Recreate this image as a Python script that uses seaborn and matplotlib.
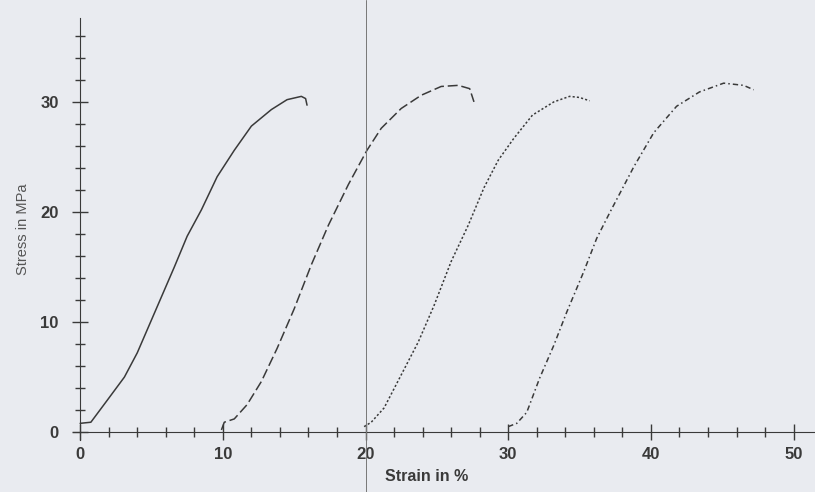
import numpy as np
import pandas as pd
import seaborn as sns
import matplotlib.pyplot as plt
from matplotlib.ticker import MultipleLocator

# values (strain in %, stress in MPa)
strain_1 = [0.0, 0.75, 1.9, 3.1, 4.0, 4.7, 5.7, 6.6, 7.5, 8.5, 9.6, 10.8, 12.0, 13.4, 14.5, 15.5, 15.8, 15.9]
stress_1 = [0.8, 0.9, 2.9, 5.0, 7.2, 9.3, 12.3, 15.0, 17.8, 20.2, 23.2, 25.6, 27.8, 29.3, 30.2, 30.5, 30.3, 29.7]

strain_2 = [9.9, 10.1, 10.8, 11.7, 12.7, 13.8, 15.0, 16.2, 17.4, 18.8, 20.1, 21.1, 22.5, 23.9, 25.3, 26.5, 27.3, 27.6]
stress_2 = [0.2, 0.9, 1.2, 2.5, 4.6, 7.6, 11.2, 15.2, 18.8, 22.5, 25.6, 27.6, 29.4, 30.6, 31.4, 31.5, 31.2, 30.0]

strain_3 = [19.9, 20.4, 21.3, 22.5, 23.7, 24.8, 26.0, 27.2, 28.3, 29.3, 30.4, 31.7, 33.2, 34.3, 35.0, 35.7]
stress_3 = [0.5, 0.9, 2.2, 5.2, 8.2, 11.5, 15.5, 18.8, 22.2, 24.7, 26.7, 28.8, 30.0, 30.5, 30.4, 30.1]

strain_4 = [30.0, 30.6, 31.3, 32.2, 33.2, 34.1, 35.3, 36.2, 37.1, 38.8, 40.2, 41.8, 43.4, 45.1, 46.5, 47.2]
stress_4 = [0.5, 0.8, 1.8, 4.9, 7.9, 10.9, 14.6, 17.6, 19.9, 24.1, 27.2, 29.6, 30.9, 31.7, 31.5, 31.1]

curves = ["1", "2", "3", "4"]

# long-form table for seaborn
frames = []
for name, xs, ys in zip(curves, [strain_1, strain_2, strain_3, strain_4],
                        [stress_1, stress_2, stress_3, stress_4]):
    frames.append(pd.DataFrame({"strain": xs, "stress": ys, "curve": name}))
df = pd.concat(frames, ignore_index=True)

sns.set_style("white")
plt.rcParams['font.family'] = ['Liberation Sans', 'DejaVu Sans']

paper = "#e9ebf0"
ink = "#3a3a3a"

fig = plt.figure(figsize=(8.15, 4.92), dpi=100, facecolor=paper)
ax = fig.add_axes([0.0896, 0.106, 0.9104, 0.857])
ax.set_facecolor(paper)

dashes = {"1": "", "2": (6.5, 2.5), "3": (1.4, 1.4), "4": (3.5, 2, 1, 2)}
sns.lineplot(data=df, x="strain", y="stress", style="curve", dashes=dashes,
             sort=False, estimator=None, color=ink, linewidth=1.1,
             legend=False, ax=ax)

# crease in the scanned paper
fig.add_artist(plt.Line2D([366 / 815, 366 / 815], [0, 1], color="#777777", linewidth=0.7))

ax.set_xlim(-0.5, 51.5)
ax.set_ylim(-0.7, 37.6)

for s in ["top", "right"]:
    ax.spines[s].set_visible(False)
ax.spines["left"].set_position(("data", 0))
ax.spines["bottom"].set_position(("data", 0))
ax.spines["left"].set_color(ink)
ax.spines["bottom"].set_color(ink)
ax.spines["left"].set_bounds(-0.7, 37.6)
ax.spines["bottom"].set_bounds(-0.5, 51.5)

ax.xaxis.set_major_locator(MultipleLocator(10))
ax.xaxis.set_minor_locator(MultipleLocator(2))
ax.yaxis.set_major_locator(MultipleLocator(10))
ax.yaxis.set_minor_locator(MultipleLocator(2))
ax.tick_params(which="both", bottom=True, left=True, direction="inout", color=ink, width=1.0)
ax.tick_params(which="major", length=11)
ax.tick_params(which="minor", length=7)
ax.tick_params(axis="x", which="major", pad=5, labelsize=12, labelcolor=ink)
ax.tick_params(axis="y", which="major", pad=10, labelsize=12, labelcolor=ink)
for lab in ax.get_xticklabels() + ax.get_yticklabels():
    lab.set_fontweight("bold")

ax.set_xlabel("Strain in %", fontsize=11.5, fontweight="bold", color=ink)
ax.set_ylabel("Stress in MPa", fontsize=10.5, color="#555555")
ax.xaxis.set_label_coords(0.476, -0.07)
ax.yaxis.set_label_coords(-0.058, 0.5)

fig.savefig("out.png", dpi=100, facecolor=paper)
